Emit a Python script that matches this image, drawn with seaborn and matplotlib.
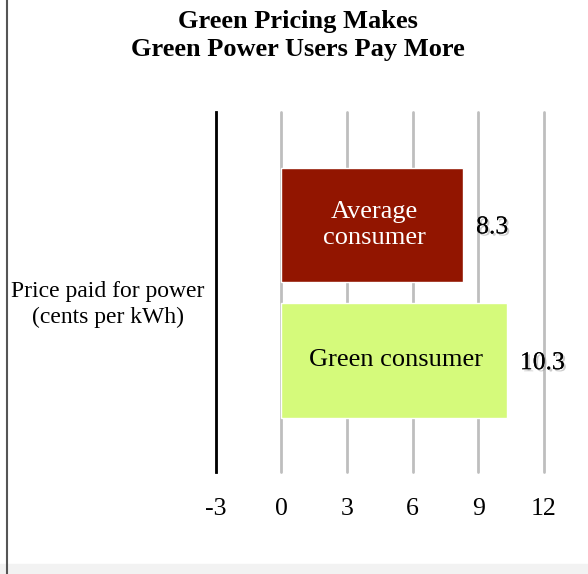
import matplotlib
matplotlib.use("Agg")
import matplotlib.pyplot as plt
import matplotlib.patheffects as pe
from matplotlib.lines import Line2D
from matplotlib.patches import Rectangle
import seaborn as sns
import pandas as pd

# Data
consumers = ["Average consumer", "Green consumer"]
bar_text = ["Average\nconsumer", "Green consumer"]
price = [8.3, 10.3]
bar_colors = ["#921500", "#D5FA7B"]
text_colors = ["white", "black"]
x_ticks = [-3, 0, 3, 6, 9, 12]

df = pd.DataFrame({"consumer": consumers, "price": price})

sns.set_style("white")
plt.rcParams["font.family"] = ["Liberation Serif", "DejaVu Serif"]
plt.rcParams["text.color"] = "black"
plt.rcParams["axes.labelcolor"] = "black"
plt.rcParams["xtick.color"] = "black"

fig = plt.figure(figsize=(5.88, 5.74), dpi=100)
ax = fig.add_axes([0.367, 0.178, 0.558, 0.627])

sns.barplot(data=df, x="price", y="consumer", hue="consumer", palette=bar_colors,
            orient="h", width=0.84, saturation=1, legend=False, ax=ax)

ax.set_xlim(-3, 12)
ax.set_ylim(1.82, -0.83)
ax.set_xticks(x_ticks)
ax.set_xticklabels([str(t) for t in x_ticks], fontsize=18.5)
ax.tick_params(axis="x", length=0, pad=19)
ax.set_yticks([])
ax.set_xlabel("")

# vertical gridlines
ax.grid(axis="x", color="#BEBEBE", linewidth=2)
for gl in ax.get_xgridlines():
    gl.set_clip_on(False)
ax.set_axisbelow(True)
for side in ["top", "right", "bottom"]:
    ax.spines[side].set_visible(False)
ax.spines["left"].set_color("black")
ax.spines["left"].set_linewidth(2)
ax.spines["left"].set_position(("data", -3))

# labels inside and beside bars
shadow = [pe.withSimplePatchShadow(offset=(1.5, -1.5), shadow_rgbFace="#999999", alpha=0.5), pe.Normal()]
for i, (txt, val) in enumerate(zip(bar_text, price)):
    ax.text(val / 2 + 0.1, i, txt, ha="center", va="center", fontsize=19,
            color=text_colors[i], linespacing=1.25)
    ax.text(val + 0.6, i + 0.02, f"{val}", ha="left", va="center", fontsize=18.5,
            color="black", path_effects=shadow)

ax.set_ylabel("Price paid for power\n(cents per kWh)", rotation=0, fontsize=17,
              ha="center", va="center", linespacing=1.35)
ax.yaxis.set_label_coords(-0.329, 0.465)

fig.suptitle("Green Pricing Makes\nGreen Power Users Pay More", fontsize=19,
             fontweight="bold", x=0.507, y=0.982, linespacing=1.25)

# page edge decoration
fig.add_artist(Rectangle((0, 0), 1, 0.017, transform=fig.transFigure,
                         color="#F2F2F2", zorder=0))
fig.add_artist(Line2D([0.012, 0.012], [0, 1], transform=fig.transFigure,
                      color="#555555", linewidth=1.5))

fig.savefig("out.png", dpi=100)
